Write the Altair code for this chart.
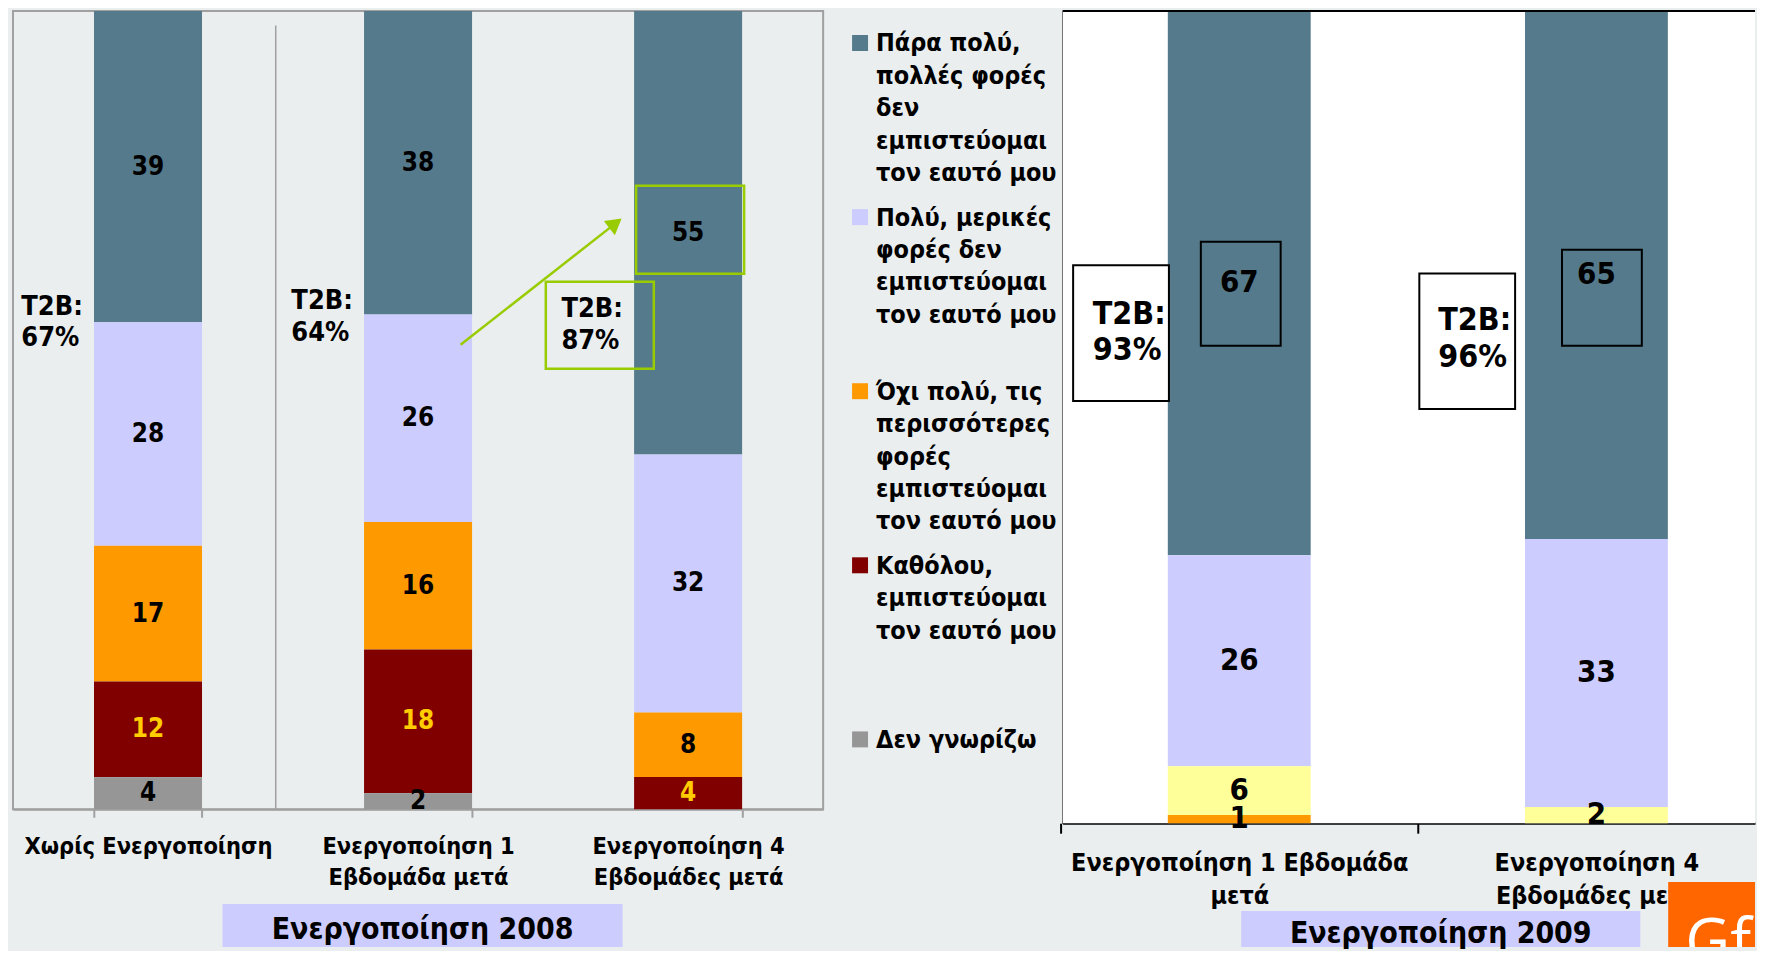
import altair as alt
import pandas as pd

FONT = "DejaVu Sans Condensed, DejaVu Sans, sans-serif"
BG = "#EAEEEF"
DARK = "#557A8B"
LAV = "#CCCCFF"
ORANGE = "#FF9900"
RED = "#800000"
GREY = "#969696"
YELLOW = "#FFFF99"
GREEN = "#99CC00"
GOLD = "#FFCC00"
FRAME = "#A0A0A0"

# ---------------- data ----------------
categories_2008 = ["Χωρίς Ενεργοποίηση", "Ενεργοποίηση 1|Εβδομάδα μετά", "Ενεργοποίηση 4|Εβδομάδες μετά"]
categories_2009 = ["Ενεργοποίηση 1 Εβδομάδα|μετά", "Ενεργοποίηση 4|Εβδομάδες μετά"]

responses = ["Πάρα πολύ", "Πολύ", "Όχι πολύ", "Καθόλου", "Δεν γνωρίζω"]
legend_text = [
    "Πάρα πολύ,\nπολλές φορές\nδεν\nεμπιστεύομαι\nτον εαυτό μου",
    "Πολύ, μερικές\nφορές δεν\nεμπιστεύομαι\nτον εαυτό μου",
    "Όχι πολύ, τις\nπερισσότερες\nφορές\nεμπιστεύομαι\nτον εαυτό μου",
    "Καθόλου,\nεμπιστεύομαι\nτον εαυτό μου",
    "Δεν γνωρίζω",
]

very_2008 = [39, 38, 55]
much_2008 = [28, 26, 32]
notmuch_2008 = [17, 16, 8]
notatall_2008 = [12, 18, 4]
dontknow_2008 = [4, 2, 0]
t2b_2008 = [67, 64, 87]

very_2009 = [67, 65]
much_2009 = [26, 33]
notmuch_2009 = [6, 2]
notatall_2009 = [1, 0]
t2b_2009 = [93, 96]

panel_titles = ["Ενεργοποίηση 2008", "Ενεργοποίηση 2009"]

palette_2008 = {"Πάρα πολύ": DARK, "Πολύ": LAV, "Όχι πολύ": ORANGE, "Καθόλου": RED, "Δεν γνωρίζω": GREY}
palette_2009 = {"Πάρα πολύ": DARK, "Πολύ": LAV, "Όχι πολύ": YELLOW, "Καθόλου": ORANGE}


def long_table(cats, series, palette):
    rows = []
    n = len(series)
    for idx, (resp, vals) in enumerate(series):
        for c, v in zip(cats, vals):
            rows.append(dict(cat=c, resp=resp, value=v, order=n - 1 - idx, fill=palette[resp]))
    return pd.DataFrame(rows)


df08 = long_table(categories_2008,
                  [("Πάρα πολύ", very_2008), ("Πολύ", much_2008), ("Όχι πολύ", notmuch_2008),
                   ("Καθόλου", notatall_2008), ("Δεν γνωρίζω", dontknow_2008)], palette_2008)
df09 = long_table(categories_2009,
                  [("Πάρα πολύ", very_2009), ("Πολύ", much_2009), ("Όχι πολύ", notmuch_2009),
                   ("Καθόλου", notatall_2009)], palette_2009)

TOTAL_H = 938

# ---------------- left panel (2008) ----------------
LW, LPLOT = 812, 800
xs08 = alt.Scale(domain=categories_2008, paddingInner=0.6, paddingOuter=0.3)
ys08 = alt.Scale(domain=[0, 100], nice=False, zero=True, range=[LPLOT, 0])
ax08 = alt.Axis(title=None, labelExpr="split(datum.label, '|')", labelAngle=0, labelFont=FONT,
                labelFontSize=23.5, labelFontWeight="bold", labelColor="black", labelLineHeight=31,
                labelPadding=17, labelLimit=0, labelBaseline="top", tickBand="extent", tickSize=8,
                tickColor=FRAME, tickWidth=2, domainColor=FRAME, domainWidth=2, grid=False,
                offset=-(TOTAL_H - LPLOT))


def lx(field="cat"):
    return alt.X(f"{field}:N", scale=xs08, axis=ax08)


def ly(field):
    return alt.Y(f"{field}:Q", scale=ys08, axis=None)


# 100% stacked (as in the original slide): each bar is normalised to its total
stack08 = alt.Chart(df08).transform_stack(
    stack="value", as_=["n0", "n1"], groupby=["cat"], sort=[alt.SortField("order", "ascending")],
    offset="normalize"
).transform_calculate(
    y0="datum.n0 * 100", y1="datum.n1 * 100", mid="(datum.n0 + datum.n1) * 50"
)

frame08 = alt.Chart(pd.DataFrame({"y0": [0], "y1": [100]})).mark_rect(
    fill="transparent", stroke=FRAME, strokeWidth=2).encode(
    x=alt.value(0), x2=alt.value("width"), y=ly("y0"), y2="y1:Q")

bars08 = stack08.mark_bar().encode(x=lx(), y=ly("y0"), y2="y1:Q",
                                    color=alt.Color("fill:N", scale=None))
labels08 = stack08.transform_filter("datum.value > 0").mark_text(
    font=FONT, fontSize=26, fontWeight="bold", baseline="middle"
).encode(x=lx(), y=ly("mid"), text=alt.Text("value:Q", format="d"),
         color=alt.when(alt.datum.resp == "Καθόλου").then(alt.value(GOLD)).otherwise(alt.value("black")))

sep = alt.Chart(pd.DataFrame({"cat": [categories_2008[0]], "y0": [0], "y1": [98.2]})).mark_rule(
    color=FRAME, strokeWidth=1.5, xOffset=128).encode(x=lx(), y=ly("y0"), y2="y1:Q")

t2b08_df = pd.DataFrame({"cat": categories_2008, "y": [64.6, 65.3, 64.3],
                         "t": [f"T2B:\n{v}%" for v in t2b_2008]})
t2b08 = alt.Chart(t2b08_df).mark_text(font=FONT, fontSize=27, fontWeight="bold", align="left",
                                      baseline="top", lineBreak="\n", lineHeight=32, xOffset=-127,
                                      color="black").encode(x=lx(), y=ly("y"), text="t:N")

box55 = alt.Chart(pd.DataFrame({"cat": [categories_2008[2]], "y0": [67.1], "y1": [78.1]})).mark_rect(
    fill="transparent", stroke=GREEN, strokeWidth=2.5, xOffset=2).encode(x=lx(), y=ly("y0"), y2="y1:Q")
box87 = alt.Chart(pd.DataFrame({"cat": [categories_2008[2]], "y0": [55.2], "y1": [66.1]})).mark_rect(
    fill="transparent", stroke=GREEN, strokeWidth=2.5, xOffset=-88.5).encode(x=lx(), y=ly("y0"), y2="y1:Q")

arrow_df = pd.DataFrame({"cat": [categories_2008[1]], "cat_end": [categories_2008[2]],
                         "y0": [58.2], "y1": [73.4]})
arrow_line = alt.Chart(arrow_df).mark_rule(color=GREEN, strokeWidth=2.5, xOffset=42.6,
                                           x2Offset=-72.8).encode(x=lx(), x2="cat_end", y=ly("y0"), y2="y1:Q")
arrow_head = alt.Chart(arrow_df).mark_point(shape="triangle-up", filled=True, size=324, angle=52,
                                            color=GREEN, opacity=1, xOffset=-72.8).encode(
    x=lx("cat_end"), y=ly("y1"))

title08 = pd.DataFrame({"t": [panel_titles[0]]})
title08_box = alt.Chart(title08).mark_rect(color=LAV).encode(
    x=alt.value(210), x2=alt.value(611), y=alt.value(895), y2=alt.value(TOTAL_H))
title08_txt = alt.Chart(title08).mark_text(font=FONT, fontSize=30, fontWeight="bold", color="black",
                                           baseline="middle").encode(
    x=alt.value(410.5), y=alt.value(921), text="t:N")

left_chart = alt.layer(frame08, bars08, sep, labels08, t2b08, box55, box87, arrow_line, arrow_head,
                       title08_box, title08_txt).properties(
    width=LW, height=TOTAL_H, view=alt.ViewBackground(fill="transparent", stroke="transparent"))

# ---------------- legend ----------------
leg_df = pd.DataFrame({"resp": responses, "label": legend_text,
                       "fill": [palette_2008[r] for r in responses]})
leg_y = alt.Y("resp:N", scale=alt.Scale(type="point", domain=responses, padding=0.1175), axis=None)
leg_sq = alt.Chart(leg_df).mark_square(size=256, yOffset=11.5, opacity=1).encode(
    x=alt.value(37), y=leg_y, color=alt.Color("fill:N", scale=None))
leg_tx = alt.Chart(leg_df).mark_text(font=FONT, fontSize=25, fontWeight="bold", align="left",
                                     baseline="top", lineBreak="\n", lineHeight=32.5,
                                     color="black").encode(x=alt.value(53), y=leg_y, text="label:N")
legend_chart = alt.layer(leg_sq, leg_tx).properties(
    width=240, height=739, view=alt.ViewBackground(fill="transparent", stroke="transparent"))

# ---------------- right panel (2009) ----------------
RW, RPLOT = 694, 814
xs09 = alt.Scale(domain=categories_2009, paddingInner=0.6, paddingOuter=0.2693, align=0.547)
ys09 = alt.Scale(domain=[0, 100], nice=False, zero=True, range=[RPLOT, 0])
ax09 = alt.Axis(title=None, labelExpr="split(datum.label, '|')", labelAngle=0, labelFont=FONT,
                labelFontSize=25, labelFontWeight="bold", labelColor="black", labelLineHeight=33,
                labelPadding=17, labelLimit=0, labelBaseline="top", tickSize=10, tickColor="black",
                tickWidth=2, tickOffset=-179, labelOffset=179, domainColor="black", domainWidth=2,
                grid=False, offset=-(TOTAL_H - RPLOT))
ay09 = alt.Axis(title=None, labels=False, ticks=False, grid=False, domainColor="black", domainWidth=2)


def rx(field="cat"):
    return alt.X(f"{field}:N", scale=xs09, axis=ax09)


def ry(field):
    return alt.Y(f"{field}:Q", scale=ys09, axis=ay09)


stack09 = alt.Chart(df09).transform_stack(
    stack="value", as_=["y0", "y1"], groupby=["cat"], sort=[alt.SortField("order", "ascending")]
).transform_calculate(mid="(datum.y0 + datum.y1) / 2")

white09 = alt.Chart(pd.DataFrame({"y0": [0], "y1": [100]})).mark_rect(color="white").encode(
    x=alt.value(0), x2=alt.value("width"), y=ry("y0"), y2="y1:Q")
bars09 = stack09.mark_bar().encode(x=rx(), y=ry("y0"), y2="y1:Q", color=alt.Color("fill:N", scale=None))
labels09 = stack09.transform_filter("datum.value > 0").mark_text(
    font=FONT, fontSize=31, fontWeight="bold", baseline="middle", color="black"
).encode(x=rx(), y=ry("mid"), text=alt.Text("value:Q", format="d"))


def box(cat, y0, y1, width, dx, fill):
    d = pd.DataFrame({"cat": [cat], "y0": [y0], "y1": [y1]})
    return alt.Chart(d).mark_bar(width=width, fill=fill, stroke="black", strokeWidth=2,
                                 xOffset=dx).encode(x=rx(), y=ry("y0"), y2="y1:Q")


def t2b_text(cat, y, value, dx):
    d = pd.DataFrame({"cat": [cat], "y": [y], "t": [f"T2B:\n{value}%"]})
    return alt.Chart(d).mark_text(font=FONT, fontSize=32, fontWeight="bold", align="left",
                                  baseline="top", lineBreak="\n", lineHeight=37, xOffset=dx,
                                  color="black").encode(x=rx(), y=ry("y"), text="t:N")


top_rule = alt.Chart(pd.DataFrame({"a": [1]})).mark_rule(color="black", strokeWidth=2).encode(
    y=alt.datum(100, scale=ys09))

title09 = pd.DataFrame({"t": [panel_titles[1]], "logo": ["GfK"]})
title09_box = alt.Chart(title09).mark_rect(color=LAV).encode(
    x=alt.value(179), x2=alt.value(579), y=alt.value(902), y2=alt.value(TOTAL_H))
title09_txt = alt.Chart(title09).mark_text(font=FONT, fontSize=30, fontWeight="bold", color="black",
                                           baseline="middle").encode(
    x=alt.value(379), y=alt.value(925), text="t:N")
logo_box = alt.Chart(title09).mark_rect(color="#FF6600").encode(
    x=alt.value(607), x2=alt.value(RW), y=alt.value(873), y2=alt.value(TOTAL_H))
logo_txt = alt.Chart(title09).mark_text(font="Open Sans", fontSize=62, color="white", align="left",
                                        baseline="alphabetic", clip=True).encode(
    x=alt.value(624), y=alt.value(954), text="logo:N")

right_chart = alt.layer(
    white09,
    bars09,
    box(categories_2009[0], 58.8, 71.6, 80, 1.5, "transparent"),
    box(categories_2009[1], 58.8, 70.6, 80, 5.5, "transparent"),
    box(categories_2009[0], 52.0, 68.7, 96, -118.5, "white"),
    box(categories_2009[1], 51.0, 67.7, 96, -129.5, "white"),
    labels09,
    t2b_text(categories_2009[0], 64.6, t2b_2009[0], -146.8),
    t2b_text(categories_2009[1], 63.8, t2b_2009[1], -158.5),
    top_rule,
    title09_box, title09_txt, logo_box, logo_txt,
).properties(width=RW, height=TOTAL_H, view=alt.ViewBackground(fill="transparent", stroke="transparent"))

chart = alt.hconcat(left_chart, legend_chart, right_chart, spacing=0, bounds="flush").properties(
    padding={"left": 3, "top": 0, "right": 0, "bottom": 0}, background=BG
).configure_view(stroke="transparent")

chart.save("out.html", embed_options={"renderer": "svg", "actions": False})
